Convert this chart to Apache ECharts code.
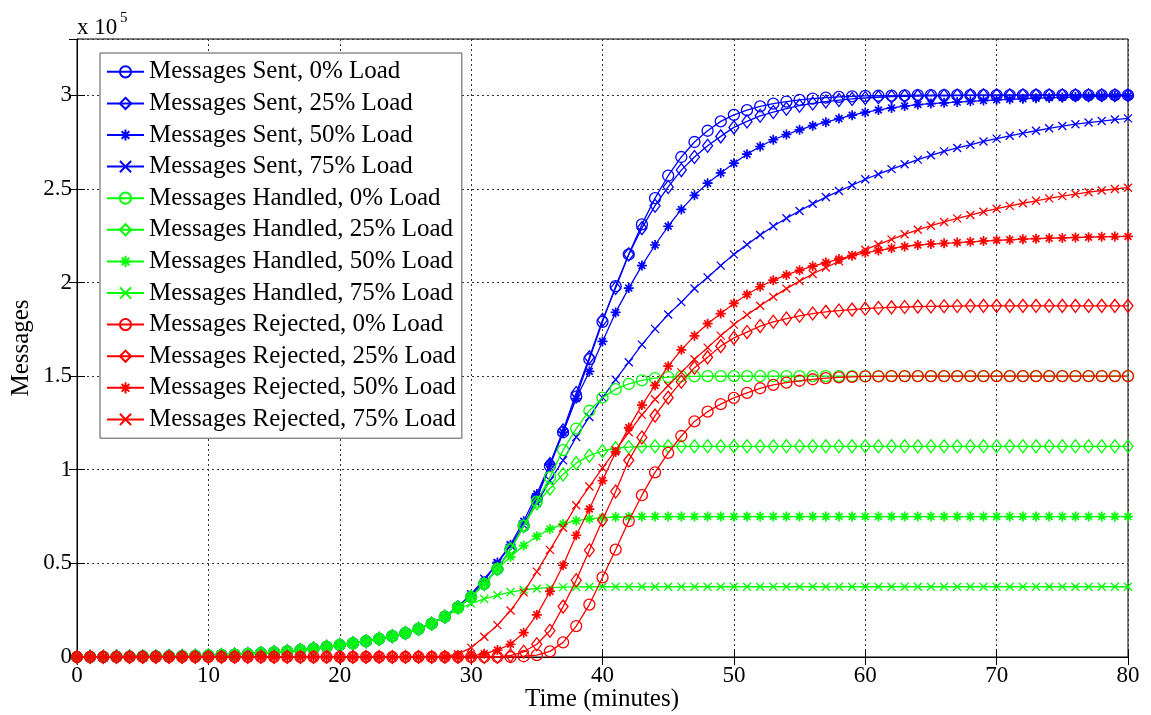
<!DOCTYPE html>
<html><head><meta charset="utf-8">
<script src="https://cdn.jsdelivr.net/npm/echarts@6/dist/echarts.min.js"></script>
<style>html,body{margin:0;padding:0;background:#fff}#c{width:1151px;height:715px}</style>
</head><body><div id="c"></div>
<script>
// Time in minutes
const time = [0,1,2,3,4,5,6,7,8,9,10,11,12,13,14,15,16,17,18,19,20,21,22,23,24,25,26,27,28,29,30,31,32,33,34,35,36,37,38,39,40,41,42,43,44,45,46,47,48,49,50,51,52,53,54,55,56,57,58,59,60,61,62,63,64,65,66,67,68,69,70,71,72,73,74,75,76,77,78,79,80];

// Values in units of 10^5 messages
const sent0 = [0,0.001,0.001,0.002,0.002,0.003,0.003,0.004,0.005,0.006,
0.008,0.01,0.013,0.016,0.02,0.025,0.03,0.037,0.045,0.054,
0.064,0.073,0.084,0.097,0.111,0.128,0.15,0.178,0.215,0.265,
0.32,0.39,0.47,0.575,0.70,0.85,1.02,1.20,1.39,1.59,
1.79,1.98,2.15,2.31,2.45,2.57,2.67,2.75,2.81,2.86,
2.895,2.92,2.94,2.955,2.966,2.975,2.982,2.987,2.991,2.994,
2.996,2.997,2.998,2.999,3,3,3,3,3,3,
3,3,3,3,3,3,3,3,3,3,3];
const sent25 = [0,0.001,0.001,0.002,0.002,0.003,0.003,0.004,0.005,0.006,
0.008,0.01,0.013,0.016,0.02,0.025,0.03,0.037,0.045,0.054,
0.064,0.073,0.084,0.097,0.111,0.128,0.15,0.178,0.215,0.265,
0.32,0.39,0.47,0.575,0.70,0.85,1.03,1.21,1.41,1.60,
1.80,1.97,2.15,2.29,2.41,2.51,2.60,2.67,2.73,2.78,
2.828,2.86,2.89,2.91,2.928,2.944,2.956,2.966,2.974,2.98,
2.985,2.989,2.992,2.994,2.995,2.996,2.997,2.998,2.999,3,
3,3,3,3,3,3,3,3,3,3,3];
const sent50 = [0,0.001,0.001,0.002,0.002,0.003,0.003,0.004,0.005,0.006,
0.008,0.01,0.013,0.016,0.02,0.025,0.03,0.037,0.045,0.054,
0.064,0.073,0.084,0.097,0.111,0.128,0.15,0.178,0.215,0.265,
0.325,0.405,0.505,0.60,0.725,0.87,1.03,1.20,1.38,1.525,
1.685,1.84,1.97,2.09,2.20,2.30,2.39,2.465,2.53,2.585,
2.637,2.685,2.726,2.762,2.79,2.815,2.837,2.856,2.875,2.893,
2.908,2.921,2.932,2.942,2.95,2.955,2.959,2.963,2.967,2.971,
2.975,2.978,2.981,2.984,2.986,2.988,2.99,2.992,2.994,2.995,2.996];
const sent75 = [0,0.001,0.001,0.002,0.002,0.003,0.003,0.004,0.005,0.006,
0.008,0.01,0.013,0.016,0.02,0.025,0.03,0.037,0.045,0.054,
0.064,0.073,0.084,0.097,0.111,0.128,0.15,0.178,0.218,0.27,
0.335,0.418,0.50,0.595,0.704,0.822,0.942,1.05,1.175,1.282,
1.385,1.481,1.574,1.668,1.752,1.829,1.895,1.968,2.027,2.09,
2.15,2.202,2.253,2.3,2.343,2.382,2.42,2.456,2.488,2.519,
2.551,2.578,2.605,2.631,2.656,2.679,2.7,2.718,2.735,2.753,
2.768,2.783,2.797,2.81,2.823,2.835,2.845,2.854,2.862,2.87,2.876];
const hand0 = [0,0.001,0.001,0.002,0.002,0.003,0.003,0.004,0.005,0.006,
0.008,0.01,0.013,0.016,0.02,0.025,0.03,0.037,0.045,0.054,
0.064,0.073,0.084,0.097,0.111,0.128,0.15,0.178,0.215,0.265,
0.32,0.39,0.47,0.575,0.70,0.83,0.96,1.105,1.22,1.315,
1.385,1.43,1.458,1.477,1.489,1.495,1.498,1.499,1.5,1.5,
1.5,1.5,1.5,1.5,1.5,1.5,1.5,1.5,1.5,1.5,
1.5,1.5,1.5,1.5,1.5,1.5,1.5,1.5,1.5,1.5,
1.5,1.5,1.5,1.5,1.5,1.5,1.5,1.5,1.5,1.5,1.5];
const hand25 = [0,0.001,0.001,0.002,0.002,0.003,0.003,0.004,0.005,0.006,
0.008,0.01,0.013,0.016,0.02,0.025,0.03,0.037,0.045,0.054,
0.064,0.073,0.084,0.097,0.111,0.128,0.15,0.178,0.215,0.265,
0.32,0.39,0.47,0.575,0.70,0.82,0.90,0.975,1.035,1.075,
1.10,1.115,1.121,1.124,1.125,1.125,1.125,1.125,1.125,1.125,
1.125,1.125,1.125,1.125,1.125,1.125,1.125,1.125,1.125,1.125,
1.125,1.125,1.125,1.125,1.125,1.125,1.125,1.125,1.125,1.125,
1.125,1.125,1.125,1.125,1.125,1.125,1.125,1.125,1.125,1.125,1.125];
const hand50 = [0,0.001,0.001,0.002,0.002,0.003,0.003,0.004,0.005,0.006,
0.008,0.01,0.013,0.016,0.02,0.025,0.03,0.037,0.045,0.054,
0.064,0.073,0.084,0.097,0.111,0.128,0.15,0.178,0.215,0.265,
0.32,0.39,0.47,0.535,0.595,0.645,0.683,0.71,0.728,0.738,
0.744,0.747,0.749,0.75,0.75,0.75,0.75,0.75,0.75,0.75,
0.75,0.75,0.75,0.75,0.75,0.75,0.75,0.75,0.75,0.75,
0.75,0.75,0.75,0.75,0.75,0.75,0.75,0.75,0.75,0.75,
0.75,0.75,0.75,0.75,0.75,0.75,0.75,0.75,0.75,0.75,0.75];
const hand75 = [0,0.001,0.001,0.002,0.002,0.003,0.003,0.004,0.005,0.006,
0.008,0.01,0.013,0.016,0.02,0.025,0.03,0.037,0.045,0.054,
0.064,0.073,0.084,0.097,0.111,0.128,0.15,0.178,0.215,0.255,
0.285,0.31,0.33,0.347,0.359,0.366,0.37,0.373,0.374,0.375,
0.375,0.375,0.375,0.375,0.375,0.375,0.375,0.375,0.375,0.375,
0.375,0.375,0.375,0.375,0.375,0.375,0.375,0.375,0.375,0.375,
0.375,0.375,0.375,0.375,0.375,0.375,0.375,0.375,0.375,0.375,
0.375,0.375,0.375,0.375,0.375,0.375,0.375,0.375,0.375,0.375,0.375];
const rej0 = [0,0,0,0,0,0,0,0,0,0,
0,0,0,0,0,0,0,0,0,0,
0,0,0,0,0,0,0,0,0,0,
0,0,0,0,0.004,0.01,0.03,0.078,0.165,0.28,
0.425,0.573,0.726,0.864,0.986,1.09,1.18,1.258,1.31,1.35,
1.384,1.41,1.435,1.453,1.465,1.475,1.483,1.489,1.493,1.496,
1.498,1.499,1.5,1.5,1.5,1.5,1.5,1.5,1.5,1.5,
1.5,1.5,1.5,1.5,1.5,1.5,1.5,1.5,1.5,1.5,1.5];
const rej25 = [0,0,0,0,0,0,0,0,0,0,
0,0,0,0,0,0,0,0,0,0,
0,0,0,0,0,0,0,0,0,0,
0,0,0,0.008,0.028,0.068,0.14,0.269,0.41,0.57,
0.731,0.884,1.05,1.172,1.289,1.385,1.47,1.545,1.60,1.66,
1.704,1.735,1.767,1.79,1.807,1.822,1.834,1.843,1.85,1.855,
1.86,1.864,1.867,1.869,1.871,1.872,1.873,1.874,1.875,1.875,
1.875,1.875,1.875,1.875,1.875,1.875,1.875,1.875,1.875,1.875,1.875];
const rej50 = [0,0,0,0,0,0,0,0,0,0,
0,0,0,0,0,0,0,0,0,0,
0,0,0,0,0,0,0,0,0,0,
0.005,0.018,0.037,0.068,0.13,0.225,0.35,0.49,0.65,0.79,
0.942,1.095,1.225,1.345,1.45,1.553,1.64,1.715,1.78,1.834,
1.888,1.936,1.977,2.012,2.04,2.065,2.087,2.106,2.125,2.143,
2.158,2.171,2.182,2.192,2.2,2.205,2.209,2.213,2.217,2.221,
2.225,2.228,2.231,2.234,2.236,2.238,2.24,2.242,2.244,2.245,2.246];
const rej75 = [0,0,0,0,0,0,0,0,0,0,
0,0,0,0,0,0,0,0,0,0,
0,0,0,0,0,0,0,0,0.003,0.015,
0.05,0.108,0.17,0.248,0.345,0.456,0.572,0.69,0.81,0.91,
1.01,1.105,1.2,1.293,1.376,1.45,1.52,1.59,1.652,1.716,
1.775,1.827,1.876,1.923,1.967,2.007,2.045,2.08,2.113,2.145,
2.175,2.203,2.23,2.257,2.281,2.303,2.323,2.342,2.36,2.378,
2.394,2.409,2.423,2.436,2.449,2.461,2.472,2.482,2.491,2.499,2.506];

const seriesNames = [
  'Messages Sent, 0% Load','Messages Sent, 25% Load','Messages Sent, 50% Load','Messages Sent, 75% Load',
  'Messages Handled, 0% Load','Messages Handled, 25% Load','Messages Handled, 50% Load','Messages Handled, 75% Load',
  'Messages Rejected, 0% Load','Messages Rejected, 25% Load','Messages Rejected, 50% Load','Messages Rejected, 75% Load'
];
const seriesValues = [sent0,sent25,sent50,sent75,hand0,hand25,hand50,hand75,rej0,rej25,rej50,rej75];
const xTickValues = [0,10,20,30,40,50,60,70,80];
const yTickLabels = ['0','0.5','1','1.5','2','2.5','3'];

const BLUE='#0000ff', GREEN='#00ff00', RED='#ff0000';
const colors = [BLUE,BLUE,BLUE,BLUE,GREEN,GREEN,GREEN,GREEN,RED,RED,RED,RED];
const STAR = 'path://M5 0 L5 10 M0 5 L10 5 M1.6 1.6 L8.4 8.4 M8.4 1.6 L1.6 8.4';
const XMARK = 'path://M0 0 L10 10 M10 0 L0 10';
const markers = [
  {s:'circle', size:11},
  {s:'diamond', size:[10,13]},
  {s:STAR, size:10},
  {s:XMARK, size:8}
];
const FONT = '"Liberation Serif","Times New Roman",serif';

const series = seriesValues.map((vals, i) => {
  const m = markers[i % 4];
  return {
    name: seriesNames[i],
    type: 'line',
    data: time.map((t, j) => [t, vals[j]]),
    symbol: m.s,
    symbolSize: m.size,
    showAllSymbol: true,
    lineStyle: {color: colors[i], width: 1.3},
    itemStyle: {color: 'rgba(255,255,255,0)', borderColor: colors[i], borderWidth: (i % 4 === 2) ? 1.7 : 1.3},
    emphasis: {disabled: true},
    z: 2 + i * 0.01
  };
});

const chart = echarts.init(document.getElementById('c'), null, {renderer: 'canvas'});
chart.setOption({
  animation: false,
  backgroundColor: '#fff',
  grid: {left: 77, top: 39, width: 1051, height: 618, show: true, borderColor: '#000', borderWidth: 1,
         containLabel: false, outerBoundsMode: 'none'},
  xAxis: [{
    type: 'value', min: 0, max: 80, interval: 10, position: 'bottom',
    axisLine: {show: true, lineStyle: {color: '#000', width: 1}},
    axisTick: {show: true, inside: true, length: 8, lineStyle: {color: '#000'}},
    axisLabel: {fontFamily: FONT, fontSize: 23, color: '#000', margin: 7,
      formatter: v => xTickValues.indexOf(v) >= 0 ? String(v) : ''},
    splitLine: {show: true, lineStyle: {color: '#333', type: [2, 3], width: 1}}
  }, {
    type: 'value', min: 0, max: 80, interval: 10, position: 'top',
    axisLine: {show: true, lineStyle: {color: '#000', width: 1}},
    axisTick: {show: true, inside: true, length: 8, lineStyle: {color: '#000'}},
    axisLabel: {show: false}, splitLine: {show: false}
  }],
  yAxis: [{
    type: 'value', min: 0, max: 3.3, interval: 0.5, position: 'left',
    axisLine: {show: true, lineStyle: {color: '#000', width: 1}},
    axisTick: {show: true, inside: true, length: 8, lineStyle: {color: '#000'}},
    axisLabel: {fontFamily: FONT, fontSize: 23, color: '#000', margin: 5, showMaxLabel: false,
      formatter: v => { const s = String(Math.round(v * 10) / 10); return yTickLabels.indexOf(s) >= 0 ? s : ''; }},
    splitLine: {show: true, lineStyle: {color: '#333', type: [2, 3], width: 1}}
  }, {
    type: 'value', min: 0, max: 3.3, interval: 0.5, position: 'right',
    axisLine: {show: true, lineStyle: {color: '#000', width: 1}},
    axisTick: {show: true, inside: true, length: 8, lineStyle: {color: '#000'}},
    axisLabel: {show: false}, splitLine: {show: false}
  }],
  legend: {
    orient: 'vertical', left: 100, top: 53,
    data: seriesNames,
    backgroundColor: '#fff', borderColor: '#555', borderWidth: 1,
    padding: [3, 6, 3, 6], itemGap: 0, itemWidth: 37, itemHeight: 14,
    textStyle: {fontFamily: FONT, fontSize: 25, color: '#000', lineHeight: 31.6},
    selectedMode: false
  },
  graphic: [
    {type: 'text', left: 77, top: 16, style: {text: 'x 10', font: '23px ' + FONT, fill: '#000'}},
    {type: 'text', left: 120, top: 11, style: {text: '5', font: '15px ' + FONT, fill: '#000'}},
    {type: 'text', x: 602, y: 699, style: {text: 'Time (minutes)', font: '25px ' + FONT, fill: '#000',
      align: 'center', verticalAlign: 'middle'}},
    {type: 'text', x: 21, y: 348, rotation: Math.PI / 2, style: {text: 'Messages', font: '25px ' + FONT, fill: '#000',
      align: 'center', verticalAlign: 'middle'}}
  ],
  series: series
});
</script>
</body></html>
